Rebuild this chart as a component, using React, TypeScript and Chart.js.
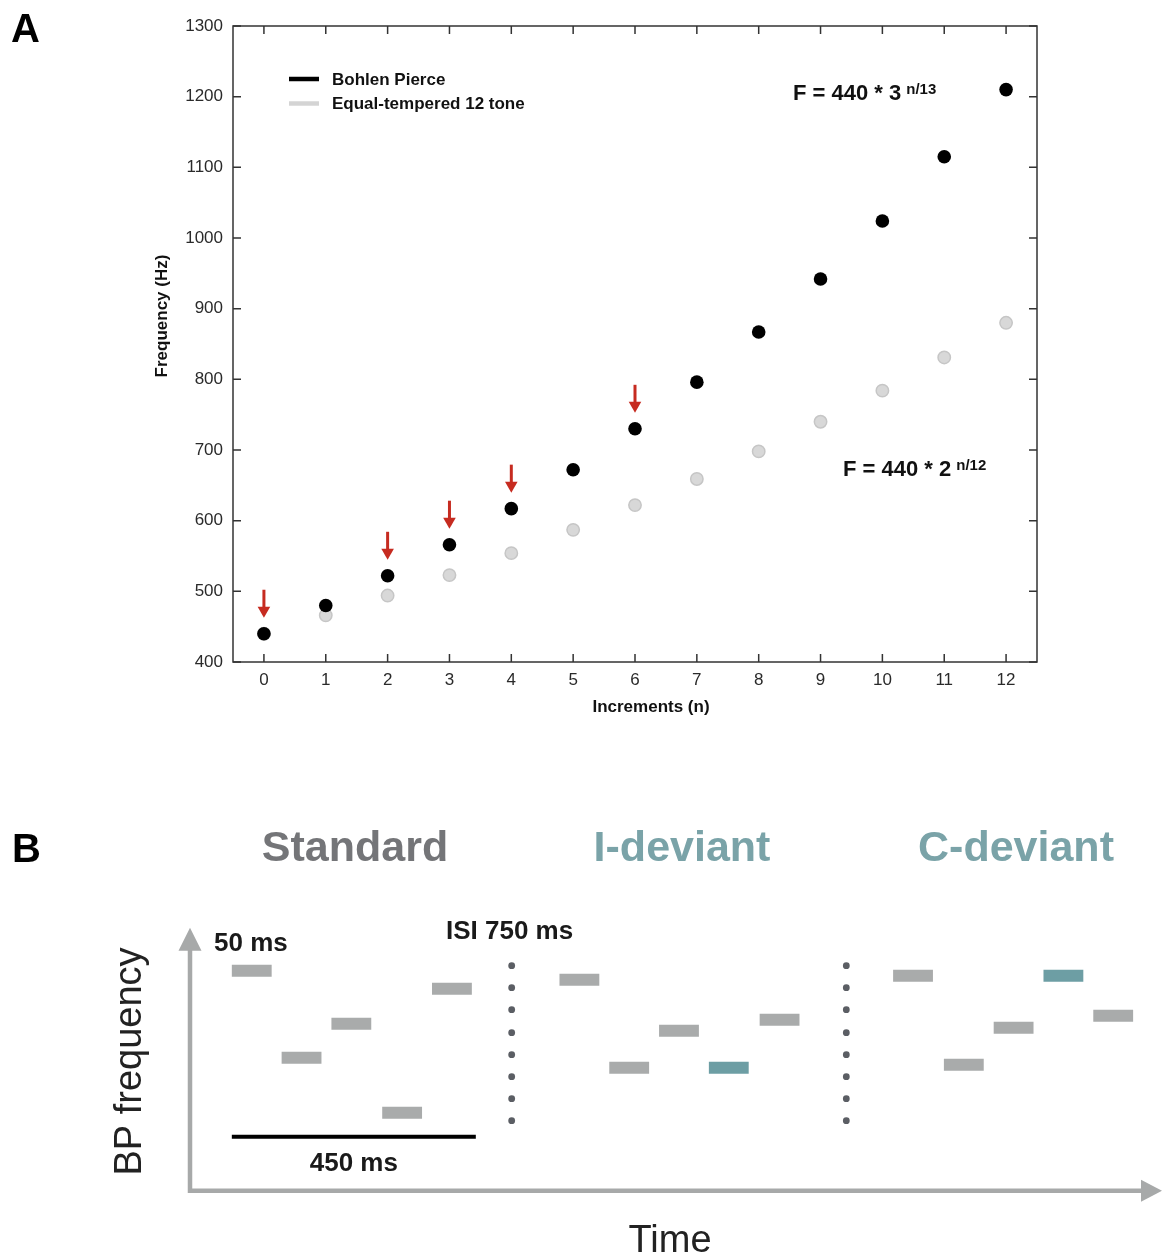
import React, { useEffect, useRef } from "react";
import { Chart, registerables } from "chart.js";

Chart.register(...registerables);

const FONT = '"Liberation Sans", Arial, Helvetica, sans-serif';

// ---------- Panel A data ----------
const increments = [0, 1, 2, 3, 4, 5, 6, 7, 8, 9, 10, 11, 12];
const bohlenPierceHz = [440, 480, 522, 566, 617, 672, 730, 796, 867, 942, 1024, 1115, 1210];
const equalTemperedHz = [440, 466, 494, 523, 554, 587, 622, 659, 698, 740, 784, 831, 880];
const markedIncrements = [0, 2, 3, 4, 6];
const xTickValues = [0, 1, 2, 3, 4, 5, 6, 7, 8, 9, 10, 11, 12];
const yTickValues = [400, 500, 600, 700, 800, 900, 1000, 1100, 1200, 1300];
const seriesLabels = ["Bohlen Pierce", "Equal-tempered 12 tone"];

// ---------- Panel B data (schematic time / frequency units) ----------
const toneLength = 40;
const standardOnsets = [42, 92, 142, 193, 243];
const standardLevels = [220, 133, 167, 78, 202];
const iDeviantOnsets = [371, 421, 471, 521, 572];
const iDeviantLevels = [211, 123, 160, 123, 171];
const cDeviantOnsets = [706, 757, 807, 857, 907];
const cDeviantLevels = [215, 126, 163, 215, 175];
const deviantToneIndex = 3;
const separatorTimes = [323, 659];
const separatorLevels = [225, 203, 181, 158, 136, 114, 92, 70];
const sequenceSpan = [42, 287];
const sequenceSpanLevel = 54;
const blockTitles = ["Standard", "I-deviant", "C-deviant"];

const GRAY_TONE = "#a9abab";
const TEAL_TONE = "#6d9ea4";

function drawPower(ctx: CanvasRenderingContext2D, base: string, exp: string, x: number, baseline: number) {
  ctx.font = `bold 22px ${FONT}`;
  ctx.textAlign = "left";
  ctx.textBaseline = "alphabetic";
  ctx.fillStyle = "#111";
  ctx.fillText(base, x, baseline);
  const w = ctx.measureText(base).width;
  ctx.font = `bold 15px ${FONT}`;
  ctx.fillText(exp, x + w + 5, baseline - 6);
}

const panelAPlugin = {
  id: "panelADecor",
  beforeDatasetsDraw(chart: any) {
    const { ctx, chartArea: a, scales } = chart;
    const x = scales.x;
    const y = scales.y;
    ctx.save();
    ctx.strokeStyle = "#333";
    ctx.lineWidth = 1.5;
    ctx.strokeRect(a.left, a.top, a.right - a.left, a.bottom - a.top);
    ctx.beginPath();
    xTickValues.forEach((v) => {
      const px = x.getPixelForValue(v);
      ctx.moveTo(px, a.bottom);
      ctx.lineTo(px, a.bottom - 8);
      ctx.moveTo(px, a.top);
      ctx.lineTo(px, a.top + 8);
    });
    yTickValues.forEach((v) => {
      const py = y.getPixelForValue(v);
      ctx.moveTo(a.left, py);
      ctx.lineTo(a.left + 8, py);
      ctx.moveTo(a.right, py);
      ctx.lineTo(a.right - 8, py);
    });
    ctx.stroke();
    ctx.restore();
  },
  afterDatasetsDraw(chart: any) {
    const { ctx, chartArea: a, scales } = chart;
    const x = scales.x;
    const y = scales.y;
    ctx.save();
    // red arrows above the marked Bohlen-Pierce tones
    ctx.fillStyle = "#c62b20";
    ctx.strokeStyle = "#c62b20";
    markedIncrements.forEach((n) => {
      const px = x.getPixelForValue(n);
      const py = y.getPixelForValue(bohlenPierceHz[increments.indexOf(n)]);
      ctx.lineWidth = 3;
      ctx.beginPath();
      ctx.moveTo(px, py - 44);
      ctx.lineTo(px, py - 26);
      ctx.stroke();
      ctx.beginPath();
      ctx.moveTo(px - 6.3, py - 27);
      ctx.lineTo(px + 6.3, py - 27);
      ctx.lineTo(px, py - 16);
      ctx.closePath();
      ctx.fill();
    });
    // legend
    const legendColors = ["#000000", "#d4d4d4"];
    const lx = a.left + 56;
    const lyStart = a.top + 53;
    seriesLabels.forEach((label, i) => {
      const ly = lyStart + i * 24.5;
      ctx.strokeStyle = legendColors[i];
      ctx.lineWidth = 4.5;
      ctx.beginPath();
      ctx.moveTo(lx, ly);
      ctx.lineTo(lx + 30, ly);
      ctx.stroke();
      ctx.fillStyle = "#111";
      ctx.font = `bold 17px ${FONT}`;
      ctx.textAlign = "left";
      ctx.textBaseline = "middle";
      ctx.fillText(label, lx + 43, ly + 1);
    });
    // formulas
    drawPower(ctx, "F = 440 * 3", "n/13", 793, 99.5);
    drawPower(ctx, "F = 440 * 2", "n/12", 843, 476);
    // axis titles
    ctx.fillStyle = "#111";
    ctx.font = `bold 17px ${FONT}`;
    ctx.textAlign = "center";
    ctx.textBaseline = "alphabetic";
    ctx.fillText("Increments (n)", 651, 712);
    ctx.save();
    ctx.translate(167, 316);
    ctx.rotate(-Math.PI / 2);
    ctx.fillText("Frequency (Hz)", 0, 0);
    ctx.restore();
    // panel letter
    ctx.font = `bold 40px ${FONT}`;
    ctx.textAlign = "left";
    ctx.fillStyle = "#000";
    ctx.fillText("A", 11, 41.5);
    ctx.restore();
  },
};

const panelBPlugin = {
  id: "panelBDecor",
  beforeDatasetsDraw(chart: any) {
    const { ctx, chartArea: a, scales } = chart;
    const x0 = scales.x.getPixelForValue(0);
    const y0 = scales.y.getPixelForValue(0);
    ctx.save();
    ctx.strokeStyle = "#a7a9a9";
    ctx.fillStyle = "#a7a9a9";
    ctx.lineWidth = 4.5;
    ctx.lineJoin = "miter";
    ctx.beginPath();
    ctx.moveTo(x0, a.top + 20);
    ctx.lineTo(x0, y0);
    ctx.lineTo(a.right - 20, y0);
    ctx.stroke();
    ctx.beginPath();
    ctx.moveTo(x0, a.top);
    ctx.lineTo(x0 - 11.5, a.top + 23);
    ctx.lineTo(x0 + 11.5, a.top + 23);
    ctx.closePath();
    ctx.fill();
    ctx.beginPath();
    ctx.moveTo(a.right, y0);
    ctx.lineTo(a.right - 21, y0 - 11);
    ctx.lineTo(a.right - 21, y0 + 11);
    ctx.closePath();
    ctx.fill();
    ctx.restore();
  },
  afterDraw(chart: any) {
    const { ctx, scales } = chart;
    ctx.save();
    ctx.textBaseline = "alphabetic";
    // panel letter
    ctx.fillStyle = "#000";
    ctx.font = `bold 40px ${FONT}`;
    ctx.textAlign = "left";
    ctx.fillText("B", 12, 102);
    // block titles
    const titleColors = ["#747578", "#7aa3a8", "#7aa3a8"];
    const titleCenters = [355, 682, 1016];
    ctx.font = `bold 43px ${FONT}`;
    ctx.textAlign = "center";
    blockTitles.forEach((t, i) => {
      ctx.fillStyle = titleColors[i];
      ctx.fillText(t, titleCenters[i], 101);
    });
    // annotations
    ctx.fillStyle = "#1a1a1a";
    ctx.font = `bold 26px ${FONT}`;
    ctx.textAlign = "left";
    ctx.fillText("50 ms", 214, 190.5);
    ctx.fillText("ISI 750 ms", 446, 179);
    ctx.textAlign = "center";
    const spanCenter = (scales.x.getPixelForValue(sequenceSpan[0]) + scales.x.getPixelForValue(sequenceSpan[1])) / 2;
    ctx.fillText("450 ms", spanCenter, 410.5);
    // axis titles
    ctx.fillStyle = "#222";
    ctx.font = `38px ${FONT}`;
    ctx.fillText("Time", 670, 492);
    ctx.save();
    ctx.translate(141, 301.5);
    ctx.rotate(-Math.PI / 2);
    ctx.fillText("BP frequency", 0, 0);
    ctx.restore();
    ctx.restore();
  },
};

function toneDataset(onset: number, level: number, color: string) {
  return {
    data: [
      { x: onset, y: level },
      { x: onset + toneLength, y: level },
    ],
    showLine: true,
    borderColor: color,
    backgroundColor: color,
    borderWidth: 12,
    borderCapStyle: "butt" as const,
    pointRadius: 0,
  };
}

export default function App() {
  const refA = useRef<HTMLCanvasElement>(null);
  const refB = useRef<HTMLCanvasElement>(null);

  useEffect(() => {
    const chartA = new Chart(refA.current as HTMLCanvasElement, {
      type: "scatter",
      data: {
        datasets: [
          {
            label: seriesLabels[0],
            data: increments.map((n, i) => ({ x: n, y: bohlenPierceHz[i] })),
            backgroundColor: "#000000",
            borderColor: "#000000",
            borderWidth: 0,
            pointRadius: 6.8,
            order: 0,
          },
          {
            label: seriesLabels[1],
            data: increments.map((n, i) => ({ x: n, y: equalTemperedHz[i] })),
            backgroundColor: "#d8d8d8",
            borderColor: "#c6c6c6",
            borderWidth: 1.5,
            pointRadius: 6.2,
            order: 1,
          },
        ],
      },
      options: {
        animation: false,
        responsive: false,
        events: [],
        layout: { padding: { left: 173, right: 129, top: 26, bottom: 58 } },
        plugins: { legend: { display: false }, tooltip: { enabled: false } },
        scales: {
          x: {
            type: "linear",
            min: -0.5,
            max: 12.5,
            grid: { display: false },
            border: { display: false },
            afterBuildTicks: (s: any) => {
              s.ticks = xTickValues.map((v) => ({ value: v }));
            },
            afterFit: (s: any) => {
              s.height = 40;
            },
            ticks: {
              padding: 0,
              color: "#2a2a2a",
              font: { family: FONT, size: 17 },
              callback: (v: any) => String(v),
            },
          },
          y: {
            type: "linear",
            min: 400,
            max: 1300,
            grid: { display: false },
            border: { display: false },
            afterBuildTicks: (s: any) => {
              s.ticks = yTickValues.map((v) => ({ value: v }));
            },
            afterFit: (s: any) => {
              s.width = 60;
            },
            ticks: {
              padding: 2,
              color: "#2a2a2a",
              font: { family: FONT, size: 17 },
              callback: (v: any) => String(v),
            },
          },
        },
      },
      plugins: [panelAPlugin],
    });

    const blocks = [
      { onsets: standardOnsets, levels: standardLevels, deviant: -1 },
      { onsets: iDeviantOnsets, levels: iDeviantLevels, deviant: deviantToneIndex },
      { onsets: cDeviantOnsets, levels: cDeviantLevels, deviant: deviantToneIndex },
    ];
    const toneSets: any[] = [];
    blocks.forEach((b) => {
      b.onsets.forEach((t, i) => {
        toneSets.push(toneDataset(t, b.levels[i], i === b.deviant ? TEAL_TONE : GRAY_TONE));
      });
    });
    const dots: { x: number; y: number }[] = [];
    separatorTimes.forEach((t) => separatorLevels.forEach((l) => dots.push({ x: t, y: l })));

    const chartB = new Chart(refB.current as HTMLCanvasElement, {
      type: "scatter",
      data: {
        datasets: [
          ...toneSets,
          {
            data: dots,
            pointRadius: 3.4,
            backgroundColor: "#5b5e64",
            borderWidth: 0,
          },
          {
            data: [
              { x: sequenceSpan[0], y: sequenceSpanLevel },
              { x: sequenceSpan[1], y: sequenceSpanLevel },
            ],
            showLine: true,
            borderColor: "#000",
            borderWidth: 4,
            borderCapStyle: "butt",
            pointRadius: 0,
          },
        ],
      },
      options: {
        animation: false,
        responsive: false,
        events: [],
        layout: { padding: { left: 190, right: 0, top: 167.7, bottom: 66.3 } },
        plugins: { legend: { display: false }, tooltip: { enabled: false } },
        scales: {
          x: { type: "linear", min: 0, max: 976, display: false },
          y: { type: "linear", min: 0, max: 263, display: false },
        },
      },
      plugins: [panelBPlugin],
    });

    return () => {
      chartA.destroy();
      chartB.destroy();
    };
  }, []);

  return (
    <div style={{ position: "absolute", left: 0, top: 0, width: 1166, height: 1257, background: "#fff" }}>
      <canvas ref={refA} width={1166} height={760} style={{ position: "absolute", left: 0, top: 0 }} />
      <canvas ref={refB} width={1166} height={497} style={{ position: "absolute", left: 0, top: 760 }} />
    </div>
  );
}
